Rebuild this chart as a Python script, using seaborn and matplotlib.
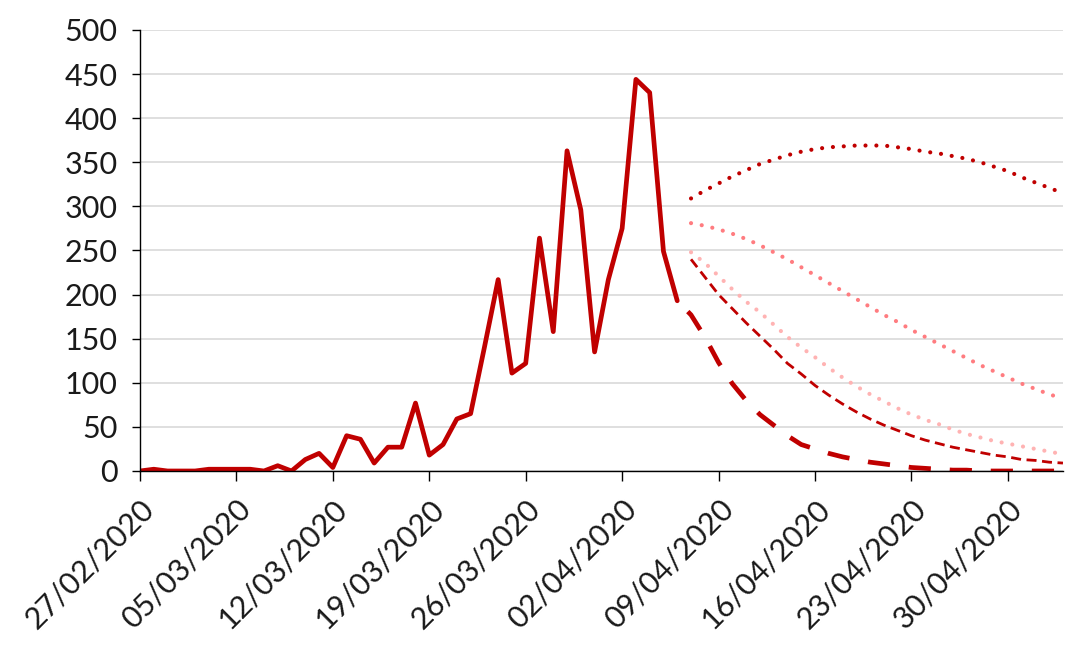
import matplotlib
matplotlib.use("Agg")
import matplotlib.pyplot as plt
import matplotlib.dates as mdates
import seaborn as sns
import pandas as pd

# daily values
start_date = "2020-02-27"
actual = [0, 2, 0, 0, 0, 2, 2, 2, 2, 0, 6, 0, 13, 20, 4, 40, 36, 9, 27, 27,
          77, 18, 30, 59, 65, 140, 217, 111, 122, 264, 158, 363, 296, 135, 217,
          275, 444, 429, 249, 193]
# continuation of the actual series (starts on the last observed day)
trend = [193, 177, 152, 123, 99, 80, 64, 52, 40, 30, 25, 20, 16, 13, 10, 8, 6,
         4, 3, 2, 1, 1, 0, 0, 0, 0, 0, 0, 0]
# forecast scenarios, starting the day after the last observation
scen_high = [309, 318, 326, 334, 341, 348, 353, 358, 362, 365, 367, 368, 369,
             369, 369, 367, 365, 362, 360, 357, 354, 350, 345, 340, 333, 327,
             321, 315]
scen_mid = [281, 278, 274, 269, 263, 256, 248, 240, 231, 222, 213, 204, 195,
            186, 177, 169, 160, 152, 144, 136, 128, 120, 113, 106, 99, 93, 87, 82]
scen_low = [248, 236, 221, 206, 192, 180, 166, 152, 140, 129, 117, 106, 96, 87,
            79, 71, 64, 58, 53, 47, 42, 38, 34, 31, 28, 25, 22, 19]
scen_dash = [240, 220, 200, 184, 168, 153, 138, 122, 110, 97, 86, 76, 67, 59,
             52, 46, 40, 35, 31, 27, 24, 21, 18, 16, 13, 12, 10, 9]

y_ticks = [0, 50, 100, 150, 200, 250, 300, 350, 400, 450, 500]

dates_actual = pd.date_range(start_date, periods=len(actual), freq="D")
dates_trend = pd.date_range(dates_actual[-1], periods=len(trend), freq="D")
dates_scen = pd.date_range(dates_actual[-1] + pd.Timedelta(days=1),
                           periods=len(scen_high), freq="D")

sns.set_style("white")
plt.rcParams["font.family"] = ["Lato", "DejaVu Sans"]

fig = plt.figure(figsize=(10.71, 6.46), dpi=100)
ax = fig.add_axes([0.1307, 0.2709, 0.8618, 0.6827])

red = "#C00000"
pink = "#FF7C80"
light_pink = "#FFB3B3"

dot = dict(dash_capstyle="round")
sns.lineplot(x=dates_scen, y=scen_low, color=light_pink, lw=3.0,
             linestyle=(0, (0.01, 2.6)), ax=ax, **dot)
sns.lineplot(x=dates_scen, y=scen_mid, color=pink, lw=3.0,
             linestyle=(0, (0.01, 2.6)), ax=ax, **dot)
sns.lineplot(x=dates_scen, y=scen_high, color=red, lw=3.0,
             linestyle=(0, (0.01, 2.6)), ax=ax, **dot)
sns.lineplot(x=dates_scen, y=scen_dash, color=red, lw=2.0,
             linestyle=(0, (3.6, 2.0)), ax=ax)
# start inside a gap so the dashes are detached from the solid line
sns.lineplot(x=dates_trend, y=trend, color=red, lw=3.4,
             linestyle=(5.5, (4.7, 4.0)), ax=ax)
sns.lineplot(x=dates_actual, y=actual, color=red, lw=3.4, ax=ax)

ax.set_ylim(0, 500)
ax.set_yticks(y_ticks)
ax.set_xlim(dates_actual[0], dates_scen[-1])
x_ticks = pd.date_range(start_date, dates_scen[-1], freq="7D")
ax.set_xticks(x_ticks)
ax.xaxis.set_major_formatter(mdates.DateFormatter("%d/%m/%Y"))

ax.yaxis.grid(True, color="#D9D9D9", lw=1.2)
ax.set_axisbelow(True)
for s in ["top", "right"]:
    ax.spines[s].set_visible(False)
for s in ["left", "bottom"]:
    ax.spines[s].set_color("black")
    ax.spines[s].set_linewidth(1.0)

ax.tick_params(axis="y", length=6, width=1, color="black", labelsize=22,
               labelcolor="#1a1a1a", left=True, pad=10)
ax.tick_params(axis="x", length=7, width=1, color="black", labelsize=22,
               labelcolor="#1a1a1a", bottom=True, pad=10)
for lab in ax.get_xticklabels():
    lab.set_rotation(45)
    lab.set_ha("right")
    lab.set_rotation_mode("anchor")

ax.set_xlabel("")
ax.set_ylabel("")
if ax.get_legend():
    ax.get_legend().remove()

fig.savefig("out.png", dpi=100)
